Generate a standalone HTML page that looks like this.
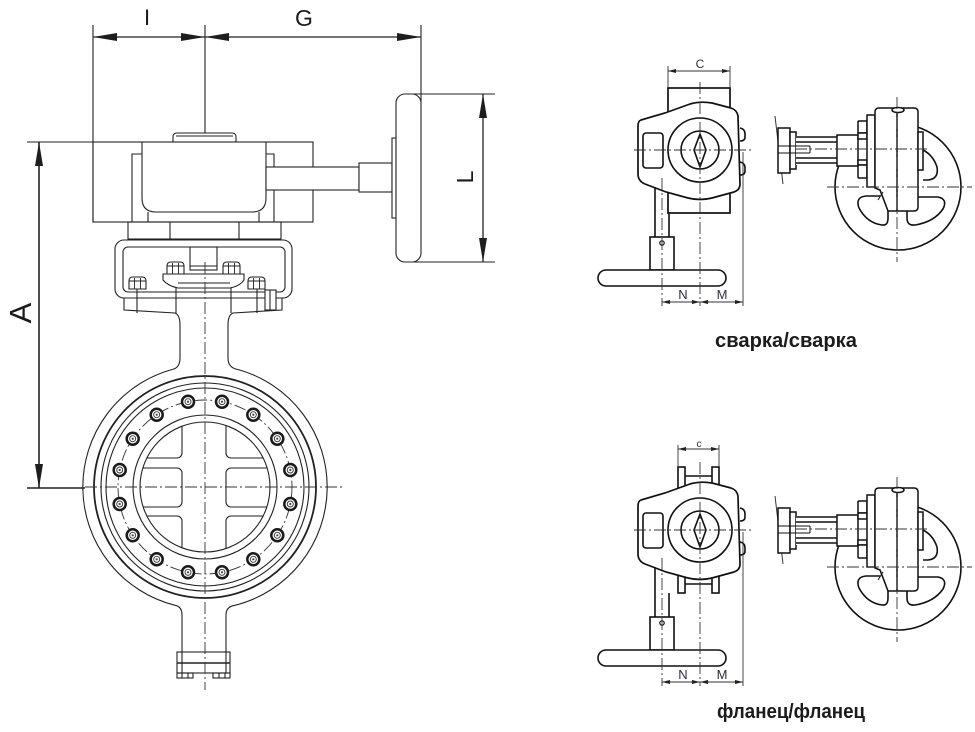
<!DOCTYPE html>
<html><head><meta charset="utf-8"><style>
html,body{margin:0;padding:0;background:#fff;}
svg{display:block}
</style></head><body>
<svg width="975" height="732" viewBox="0 0 975 732" xmlns="http://www.w3.org/2000/svg">
<defs>
<g id="bolt"><circle r="6" fill="#fff" stroke="#1a1a1a" stroke-width="2.5"/><circle r="3" fill="none" stroke="#333" stroke-width="0.9"/><circle r="1.1" fill="#444"/></g>
<g id="nut"><path d="M0,12 V4 Q0,0 4,0 H13 Q17,0 17,4 V12 Z" fill="#fff" stroke="#222" stroke-width="1.1"/><path d="M0,4 H17 M5.5,1 V12 M11.5,1 V12" fill="none" stroke="#222" stroke-width="0.9"/></g>
<clipPath id="disc"><circle cx="205" cy="487" r="65"/></clipPath>

<g id="front">
 <path d="M641,120 L665,113 L690,104 Q700,101 712,103 L731,108 Q737,110 738,116 L740,184 Q740,190 734,192 L712,198 Q700,201 688,198 L666,192 L645,184 Q638,181 638,174 L638,126 Q638,121 641,120 Z" fill="#fff" stroke="#111" stroke-width="1.7"/>
 <g fill="none" stroke="#111" stroke-width="1.6">
  <circle cx="700" cy="150" r="32"/>
  <circle cx="700" cy="150" r="19"/>
  <path d="M700,134 L706,150 L700,167 L694,150 Z"/>
  <rect x="643" y="133" width="20" height="35" rx="3"/>
  <path d="M740,128 Q745,129 745,134 V137 Q745,141 740,141 M740,162 Q745,163 745,168 V171 Q745,175 740,175"/>
  <path d="M655,187 V237 M669,213 V237"/>
  <rect x="650" y="237" width="24" height="33" fill="#fff"/>
  <circle cx="662" cy="243" r="2.2" stroke-width="1.2"/>
  <rect x="598" y="270" width="128" height="16" rx="8" fill="#fff"/>
 </g>
 <g fill="none" stroke="#333" stroke-width="0.9">
  <path d="M743,152 V306"/>
  <path d="M662,302 H743"/>
 </g>
 <g fill="none" stroke="#333" stroke-width="0.9" stroke-dasharray="12 3 2 3">
  <path d="M662,178 V306"/>
  <path d="M700,82 V306"/>
  <path d="M634,150 H752"/>
 </g>
 <g fill="#222">
  <polygon points="662,302 670,300 670,304"/>
  <polygon points="700,302 692,300 692,304"/>
  <polygon points="700,302 708,300 708,304"/>
  <polygon points="743,302 735,300 735,304"/>
 </g>
 <text x="683" y="299" font-family="Liberation Sans, sans-serif" font-size="13" fill="#2a3040" text-anchor="middle">N</text>
 <text x="722" y="299" font-family="Liberation Sans, sans-serif" font-size="13" fill="#2a3040" text-anchor="middle">M</text>
</g>

<g id="side">
 <circle cx="898" cy="187" r="63" fill="#fff" stroke="#111" stroke-width="1.6"/>
 <g fill="none" stroke="#111" stroke-width="1.6">
  <path d="M880,196 L866,196 Q855,197 859,208 Q867,223 882,225 Q888,226 888,218 L888,204"/>
  <path d="M910,197 L938,197 Q948,199 943,209 Q934,222 915,225 Q907,226 907,218 L907,204 Q907,197 910,197 Z"/>
  <path d="M923,150 Q933,155 937,167 Q939,179 928,180 L923,180"/>
 </g>
 <path d="M775,116 L783,184" fill="none" stroke="#333" stroke-width="1"/>
 <g stroke="#111" stroke-width="1.5">
  <rect x="778" y="128" width="12" height="45" fill="#fff"/>
  <rect x="790" y="132" width="6" height="37" fill="#fff"/>
  <rect x="796" y="136" width="41" height="29" fill="#fff" stroke="none"/>
  <path d="M796,137 H837 M796,142 H837 M796,158 H837 M796,163 H837" fill="none"/>
  <path d="M778,146 H810 M778,153 H810 M810,146 V153" fill="none" stroke-width="1"/>
  <rect x="837" y="135" width="21" height="31" fill="#fff"/>
  <rect x="858" y="121" width="9" height="12" rx="1" fill="#fff"/>
  <rect x="858" y="133" width="9" height="6" fill="#fff"/>
  <rect x="858" y="160" width="9" height="5" fill="#fff"/>
  <rect x="858" y="165" width="9" height="13" rx="1" fill="#fff"/>
  <rect x="867" y="115" width="8" height="72" fill="#fff"/>
  <path d="M875,112 Q875,108 879,108 H914 Q918,108 918,112 V207 Q918,211 914,211 H888 L880,190 L875,188 Z" fill="#fff"/>
  <path d="M880,190 L886,205 M883,192 L878,200" fill="none" stroke-width="1"/>
  <line x1="897" y1="108" x2="897" y2="211"/>
  <ellipse cx="898" cy="110" rx="6" ry="2.5" fill="#fff"/>
  <rect x="918" y="132" width="5" height="38" fill="#fff"/>
 </g>
 <g fill="none" stroke="#333" stroke-width="0.9" stroke-dasharray="12 3 2 3">
  <path d="M897,97 V262"/>
  <path d="M795,149 H930"/>
  <path d="M827,187 H972"/>
 </g>
</g>
</defs>

<!-- ================= MAIN VIEW ================= -->
<g fill="none" stroke="#222" stroke-width="1.1">
 <line x1="93" y1="37" x2="421" y2="37" stroke-width="1.3"/>
 <line x1="93" y1="25" x2="93" y2="222"/>
 <line x1="205" y1="25" x2="205" y2="133"/>
 <line x1="421" y1="25" x2="421" y2="104"/>
 <line x1="413" y1="94" x2="495" y2="94"/>
 <line x1="413" y1="262" x2="495" y2="262"/>
 <line x1="483" y1="94" x2="483" y2="262" stroke-width="1.3"/>
 <line x1="27" y1="142" x2="93" y2="142"/>
 <line x1="27" y1="488" x2="85" y2="488" stroke-width="1.5"/>
 <line x1="39" y1="142" x2="39" y2="488" stroke-width="1.6"/>

 <path d="M173,142 V137 Q173,133 177,133 H232 Q236,133 236,137 V142 M176,136 H233"/>
 <rect x="93" y="142" width="220" height="80"/>
 <path d="M142,142 V198 Q142,212 156,212 H252 Q266,212 266,198 V142"/>
 <path d="M142,154 H132 V222 M266,154 H274 V222"/>
 <path d="M148,212 V222 M259,212 V222"/>
 <rect x="266" y="167" width="93" height="23" fill="#fff"/>
 <rect x="359" y="163" width="33" height="29" fill="#fff"/>
 <rect x="392" y="138" width="4" height="80" fill="#fff"/>
 <rect x="396" y="94" width="25" height="168" rx="9" fill="#fff"/>

 <rect x="128" y="222" width="153" height="17"/>
 <path d="M170,222 V239 M239,222 V239"/>
 <rect x="115" y="240" width="177" height="58" rx="9"/>
 <rect x="123" y="247" width="162" height="45" rx="5"/>
 <path d="M124,298 V310 L175,313 Q180,315 180,325 V358 Q180,368 172,369.5"/>
 <path d="M282,298 V310 L233,313 Q228,315 228,325 V358 Q228,368 238,369.5"/>
 <rect x="190" y="247" width="27" height="23"/>
 <path d="M190,266 H217"/>
 <path d="M163,274 H244 V280 Q240,286 230,288 H178 Q168,286 163,280 Z" fill="#fff"/>
 <path d="M178,283 H230"/>
 <path d="M137,289 V313 M176,288 V313 M231,288 V313 M257,289 V313"/>
 <rect x="265" y="290" width="11" height="20" fill="#fff"/>
 <path d="M270,290 V310"/>

 <path d="M172,369.5 A122,122 0 0 0 175,605.3"/>
 <path d="M238,369.5 A122,122 0 0 1 235,605.3"/>
 <path d="M182,615 Q182,606.5 175,605.3 M226,615 Q226,606.5 235,605.3"/>
 <circle cx="205" cy="487" r="111" stroke-width="1.8"/>
 <circle cx="205" cy="487" r="104"/>
 <circle cx="205" cy="487" r="99"/>
 <circle cx="205" cy="487" r="72"/>
 <circle cx="205" cy="487" r="65"/>
 <g clip-path="url(#disc)">
  <rect x="118" y="398" width="64" height="60" rx="5"/>
  <rect x="118" y="468" width="64" height="39" rx="5"/>
  <rect x="118" y="516" width="64" height="62" rx="5"/>
  <rect x="226" y="398" width="66" height="60" rx="5"/>
  <rect x="226" y="468" width="66" height="39" rx="5"/>
  <rect x="226" y="516" width="66" height="62" rx="5"/>
 </g>

 <path d="M182,615 V652 M226,615 V652"/>
 <rect x="177" y="652" width="53" height="21" fill="#fff"/>
 <path d="M177,663 H230" stroke-width="1.6"/>
 <path d="M182,652 V673 M226,652 V673"/>
 <rect x="177" y="673" width="16" height="5"/>
 <rect x="213" y="673" width="17" height="5"/>
 <path d="M182,673 V678 M188,673 V678 M219,673 V678 M225,673 V678"/>
</g>

<g fill="none" stroke="#333" stroke-width="0.9" stroke-dasharray="12 3 2 3">
 <circle cx="205" cy="487" r="87"/>
 <path d="M205,262 V690"/>
 <path d="M85,487 H345"/>
</g>

<use href="#nut" x="167" y="262"/>
<use href="#nut" x="223" y="262"/>
<use href="#nut" x="129" y="277"/>
<use href="#nut" x="248" y="277"/>

<use href="#bolt" x="290.3" y="504"/>
<use href="#bolt" x="277.3" y="535.3"/>
<use href="#bolt" x="253.3" y="559.3"/>
<use href="#bolt" x="222" y="572.3"/>
<use href="#bolt" x="188" y="572.3"/>
<use href="#bolt" x="156.7" y="559.3"/>
<use href="#bolt" x="132.7" y="535.3"/>
<use href="#bolt" x="119.7" y="504"/>
<use href="#bolt" x="119.7" y="470"/>
<use href="#bolt" x="132.7" y="438.7"/>
<use href="#bolt" x="156.7" y="414.7"/>
<use href="#bolt" x="188" y="401.7"/>
<use href="#bolt" x="222" y="401.7"/>
<use href="#bolt" x="253.3" y="414.7"/>
<use href="#bolt" x="277.3" y="438.7"/>
<use href="#bolt" x="290.3" y="470"/>

<g fill="#1e1e1e">
 <polygon points="93,37 117,33 117,41"/>
 <polygon points="205,37 181,33 181,41"/>
 <polygon points="205,37 229,33 229,41"/>
 <polygon points="421,37 397,33 397,41"/>
 <polygon points="483,94 479,118 487,118"/>
 <polygon points="483,262 479,238 487,238"/>
 <polygon points="39,142 35,166 43,166"/>
 <polygon points="39,488 35,464 43,464"/>
</g>

<g font-family="Liberation Sans, sans-serif" fill="#1a1a1a">
 <text x="147" y="25" font-size="22" text-anchor="middle">I</text>
 <text x="304" y="26" font-size="23" text-anchor="middle">G</text>
 <text transform="translate(473,177) rotate(-90)" font-size="23" text-anchor="middle">L</text>
 <text transform="translate(31,313) rotate(-90)" font-size="31" text-anchor="middle">A</text>
</g>

<!-- ================= RIGHT TOP ================= -->
<rect x="668" y="88" width="62" height="125" fill="#fff" stroke="#111" stroke-width="1.7"/>
<g fill="none" stroke="#333" stroke-width="0.9">
 <path d="M668,66 V88 M730,66 V88 M668,71 H730"/>
</g>
<g fill="#222">
 <polygon points="668,71 676,69 676,73"/>
 <polygon points="730,71 722,69 722,73"/>
</g>
<text x="700" y="68" font-family="Liberation Sans, sans-serif" font-size="12" fill="#333" text-anchor="middle">C</text>
<use href="#front"/>
<use href="#side"/>
<text x="715" y="347" font-family="Liberation Sans, sans-serif" font-size="20" font-weight="bold" fill="#1b1b1b" textLength="142" lengthAdjust="spacingAndGlyphs">сварка/сварка</text>

<!-- ================= RIGHT BOTTOM ================= -->
<g stroke="#111" stroke-width="1.6" fill="#fff">
 <rect x="678" y="467" width="7" height="21"/>
 <rect x="712" y="467" width="7" height="21"/>
 <rect x="678" y="573" width="7" height="20"/>
 <rect x="712" y="573" width="7" height="20"/>
 <path d="M685,476 H712 M685,584 H712" fill="none"/>
</g>
<g fill="none" stroke="#333" stroke-width="0.9">
 <path d="M678,445 V467 M719,445 V467 M678,449 H719"/>
</g>
<g fill="#222">
 <polygon points="678,449 686,447 686,451"/>
 <polygon points="719,449 711,447 711,451"/>
</g>
<text x="699" y="447" font-family="Liberation Sans, sans-serif" font-size="10" fill="#333" text-anchor="middle">c</text>
<use href="#front" y="380"/>
<use href="#side" y="380"/>
<text x="717" y="718" font-family="Liberation Sans, sans-serif" font-size="20" font-weight="bold" fill="#1b1b1b" textLength="148" lengthAdjust="spacingAndGlyphs">фланец/фланец</text>
</svg>
</body></html>
